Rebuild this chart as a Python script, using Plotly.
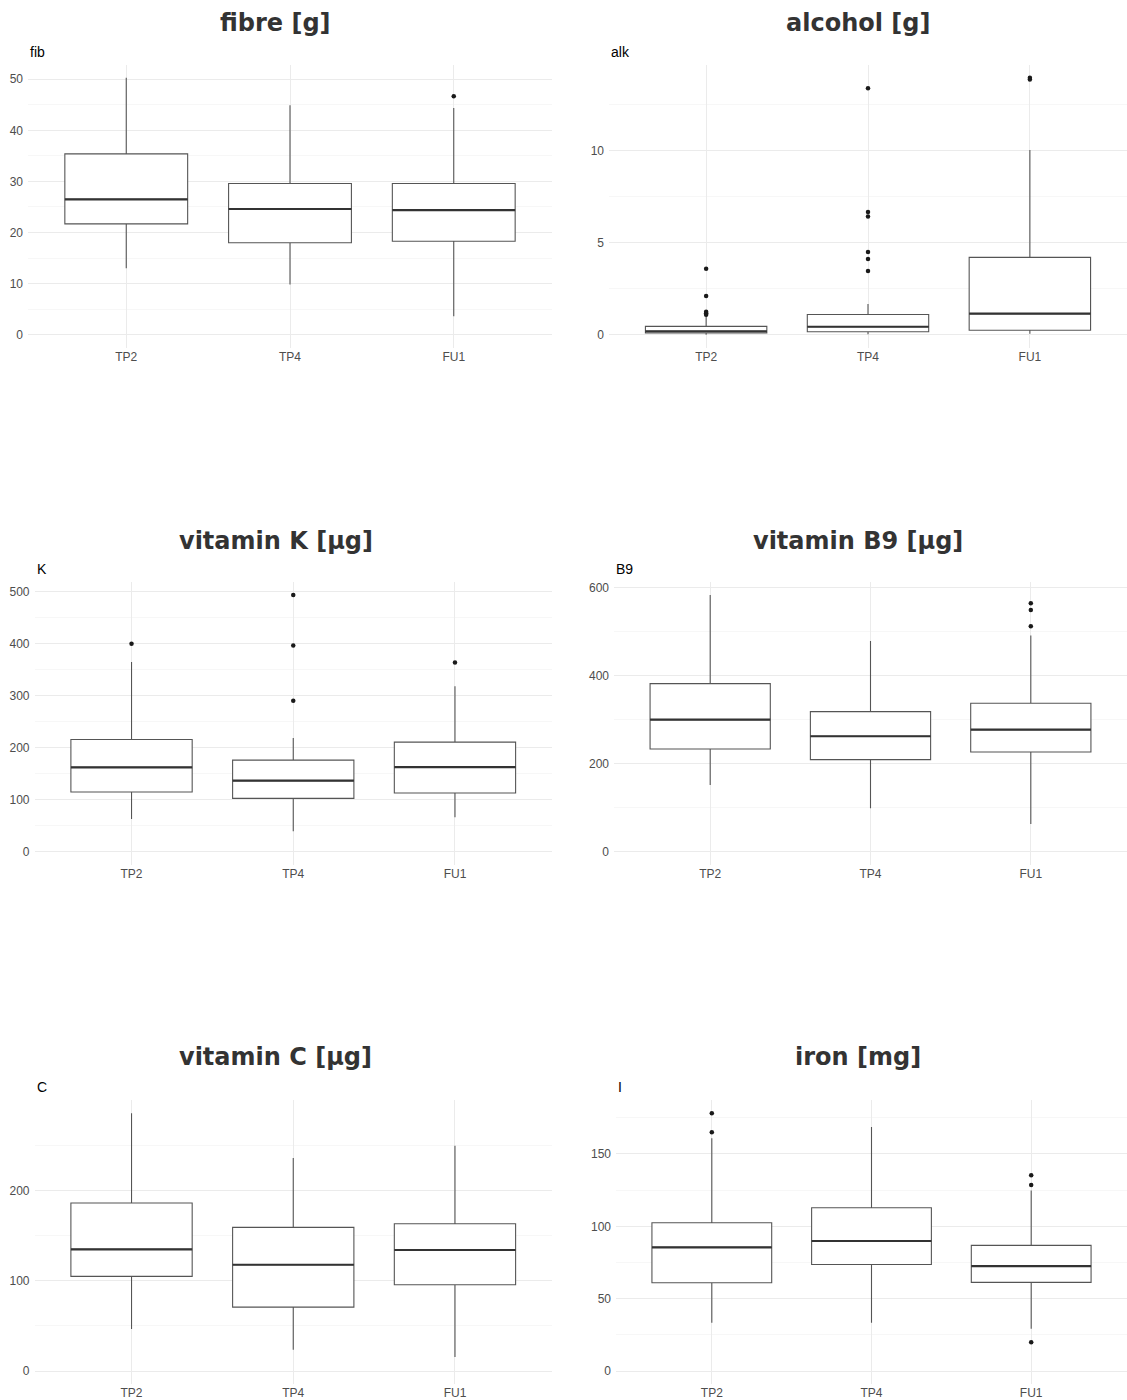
import plotly.graph_objects as go

W, H = 1127, 1400

categories = ["TP2", "TP4", "FU1"]

# ---- fibre [g]
fib_q1 = [21.7, 18.0, 18.3]
fib_med = [26.5, 24.6, 24.4]
fib_q3 = [35.4, 29.6, 29.6]
fib_lo = [13.0, 9.8, 3.6]
fib_hi = [50.3, 44.9, 44.4]
fib_out_x = ["FU1"]
fib_out_y = [46.7]

# ---- alcohol [g]
alk_q1 = [0.09, 0.16, 0.24]
alk_med = [0.18, 0.43, 1.14]
alk_q3 = [0.45, 1.10, 4.20]
alk_lo = [0.0, 0.02, 0.05]
alk_hi = [1.0, 1.67, 10.04]
alk_out_x = ["TP2", "TP2", "TP2", "TP2", "TP2",
             "TP4", "TP4", "TP4", "TP4", "TP4", "TP4",
             "FU1", "FU1"]
alk_out_y = [3.59, 2.10, 1.25, 1.17, 1.08,
             13.4, 6.67, 6.43, 4.49, 4.11, 3.46,
             13.97, 13.88]

# ---- vitamin K [µg]
k_q1 = [114.9, 102.8, 113.0]
k_med = [162.2, 136.7, 162.8]
k_q3 = [215.8, 176.2, 210.7]
k_lo = [63.2, 39.6, 66.4]
k_hi = [364.6, 218.4, 318.0]
k_out_x = ["TP2", "TP4", "TP4", "TP4", "FU1"]
k_out_y = [399.7, 493.0, 396.0, 290.0, 363.3]

# ---- vitamin B9 [µg]
b9_q1 = [234.1, 209.8, 227.3]
b9_med = [300.8, 262.9, 278.0]
b9_q3 = [382.6, 318.9, 337.9]
b9_lo = [152.3, 99.2, 63.6]
b9_hi = [584.0, 479.5, 491.7]
b9_out_x = ["FU1", "FU1", "FU1"]
b9_out_y = [565.0, 550.0, 512.9]

# ---- vitamin C [µg]
c_q1 = [104.8, 70.8, 95.6]
c_med = [134.7, 117.7, 134.0]
c_q3 = [186.0, 159.0, 163.1]
c_lo = [46.5, 23.6, 15.5]
c_hi = [285.2, 235.8, 249.4]
c_out_x = []
c_out_y = []

# ---- iron [mg]
i_q1 = [61.1, 73.7, 61.3]
i_med = [85.5, 89.9, 72.6]
i_q3 = [102.5, 112.9, 86.9]
i_lo = [33.4, 33.4, 29.3]
i_hi = [160.8, 168.7, 124.7]
i_out_x = ["TP2", "TP2", "FU1", "FU1", "FU1"]
i_out_y = [178.1, 165.0, 135.3, 128.6, 20.0]

titles = ["fibre [g]", "alcohol [g]", "vitamin K [µg]",
          "vitamin B9 [µg]", "vitamin C [µg]", "iron [mg]"]
ylabels = ["fib", "alk", "K", "B9", "C", "I"]
major_dtick = [10, 5, 100, 200, 100, 50]

panels = [
    (fib_q1, fib_med, fib_q3, fib_lo, fib_hi, fib_out_x, fib_out_y),
    (alk_q1, alk_med, alk_q3, alk_lo, alk_hi, alk_out_x, alk_out_y),
    (k_q1, k_med, k_q3, k_lo, k_hi, k_out_x, k_out_y),
    (b9_q1, b9_med, b9_q3, b9_lo, b9_hi, b9_out_x, b9_out_y),
    (c_q1, c_med, c_q3, c_lo, c_hi, c_out_x, c_out_y),
    (i_q1, i_med, i_q3, i_lo, i_hi, i_out_x, i_out_y),
]

# pixel layout of the panels in page coords (left, right, top, bottom)
px_boxes = [
    (28, 552, 64, 347), (609, 1127, 64, 347),
    (34.5, 552, 582, 865), (614, 1127, 582, 865),
    (34.5, 552, 1101, 1385), (616, 1127, 1101, 1385),
]
title_y = [22, 22, 541, 541, 1058, 1058]
title_x = [275.5, 857.5] * 3


def fx(px):
    return px / W


def fy(py):
    return 1 - py / H


LINE = "#555555"
MEDLINE = "#333333"
GRID = "#ebebeb"
TICKFONT = dict(family="Liberation Sans, Arial, sans-serif", size=12, color="#4d4d4d")

fig = go.Figure()
annotations = []
layout = {}

for i, (q1, med, q3, lo, hi, ox, oy) in enumerate(panels):
    n = i + 1
    xa = "x" if n == 1 else f"x{n}"
    ya = "y" if n == 1 else f"y{n}"
    fig.add_trace(go.Box(
        x=categories, q1=q1, median=med, q3=q3, lowerfence=lo, upperfence=hi,
        width=0.75, whiskerwidth=0, boxpoints=False, fillcolor="white",
        line=dict(color=LINE, width=1.1), xaxis=xa, yaxis=ya,
        showlegend=False, hoverinfo="skip"))
    # thicker median line
    fig.add_trace(go.Box(
        x=categories, q1=med, median=med, q3=med, lowerfence=med, upperfence=med,
        width=0.75, whiskerwidth=0, boxpoints=False, fillcolor="rgba(0,0,0,0)",
        line=dict(color=MEDLINE, width=2.2), xaxis=xa, yaxis=ya,
        showlegend=False, hoverinfo="skip"))
    if ox:
        fig.add_trace(go.Scatter(
            x=ox, y=oy, mode="markers",
            marker=dict(color="#1a1a1a", size=4.5),
            xaxis=xa, yaxis=ya, showlegend=False, hoverinfo="skip"))

    allv = lo + hi + oy + [0]
    vmin, vmax = min(allv), max(allv)
    pad = 0.05 * (vmax - vmin)
    l, r, t, b = px_boxes[i]
    xkey = "xaxis" if n == 1 else f"xaxis{n}"
    ykey = "yaxis" if n == 1 else f"yaxis{n}"
    layout[xkey] = dict(
        domain=[fx(l), min(1.0, fx(r))], anchor=ya, type="category",
        categoryorder="array", categoryarray=categories,
        range=[-0.6, 2.6], showgrid=True, gridcolor=GRID, gridwidth=1,
        zeroline=False, showline=False, ticks="", tickfont=TICKFONT,
        fixedrange=True)
    layout[ykey] = dict(
        domain=[fy(b), fy(t)], anchor=xa,
        range=[vmin - pad, vmax + pad], dtick=major_dtick[i], tick0=0,
        showgrid=True, gridcolor=GRID, gridwidth=1,
        minor=dict(dtick=major_dtick[i] / 2, tick0=0, showgrid=True,
                   gridcolor="#f1f1f1", gridwidth=0.6),
        zeroline=False, showline=False, ticks="", tickfont=TICKFONT,
        ticklabelstandoff=4, fixedrange=True)

    annotations.append(dict(
        text=f"<b>{titles[i]}</b>", x=fx(title_x[i]), y=fy(title_y[i]),
        xref="paper", yref="paper", xanchor="center", yanchor="middle",
        showarrow=False,
        font=dict(family="DejaVu Sans, sans-serif", size=24, color="#333333")))
    annotations.append(dict(
        text=ylabels[i], x=fx(l), y=fy(t - 13),
        xref="paper", yref="paper", xanchor="left", yanchor="middle",
        showarrow=False,
        font=dict(family="Liberation Sans, Arial, sans-serif", size=14, color="#000000")))

fig.update_layout(
    width=W, height=H, margin=dict(l=0, r=0, t=0, b=0),
    paper_bgcolor="white", plot_bgcolor="white",
    boxmode="overlay", showlegend=False,
    annotations=annotations, **layout)

fig.write_html(
    "out.html",
    config=dict(displayModeBar=False, staticPlot=True),
    post_script="document.body.style.margin='0';document.body.style.overflow='hidden';")
